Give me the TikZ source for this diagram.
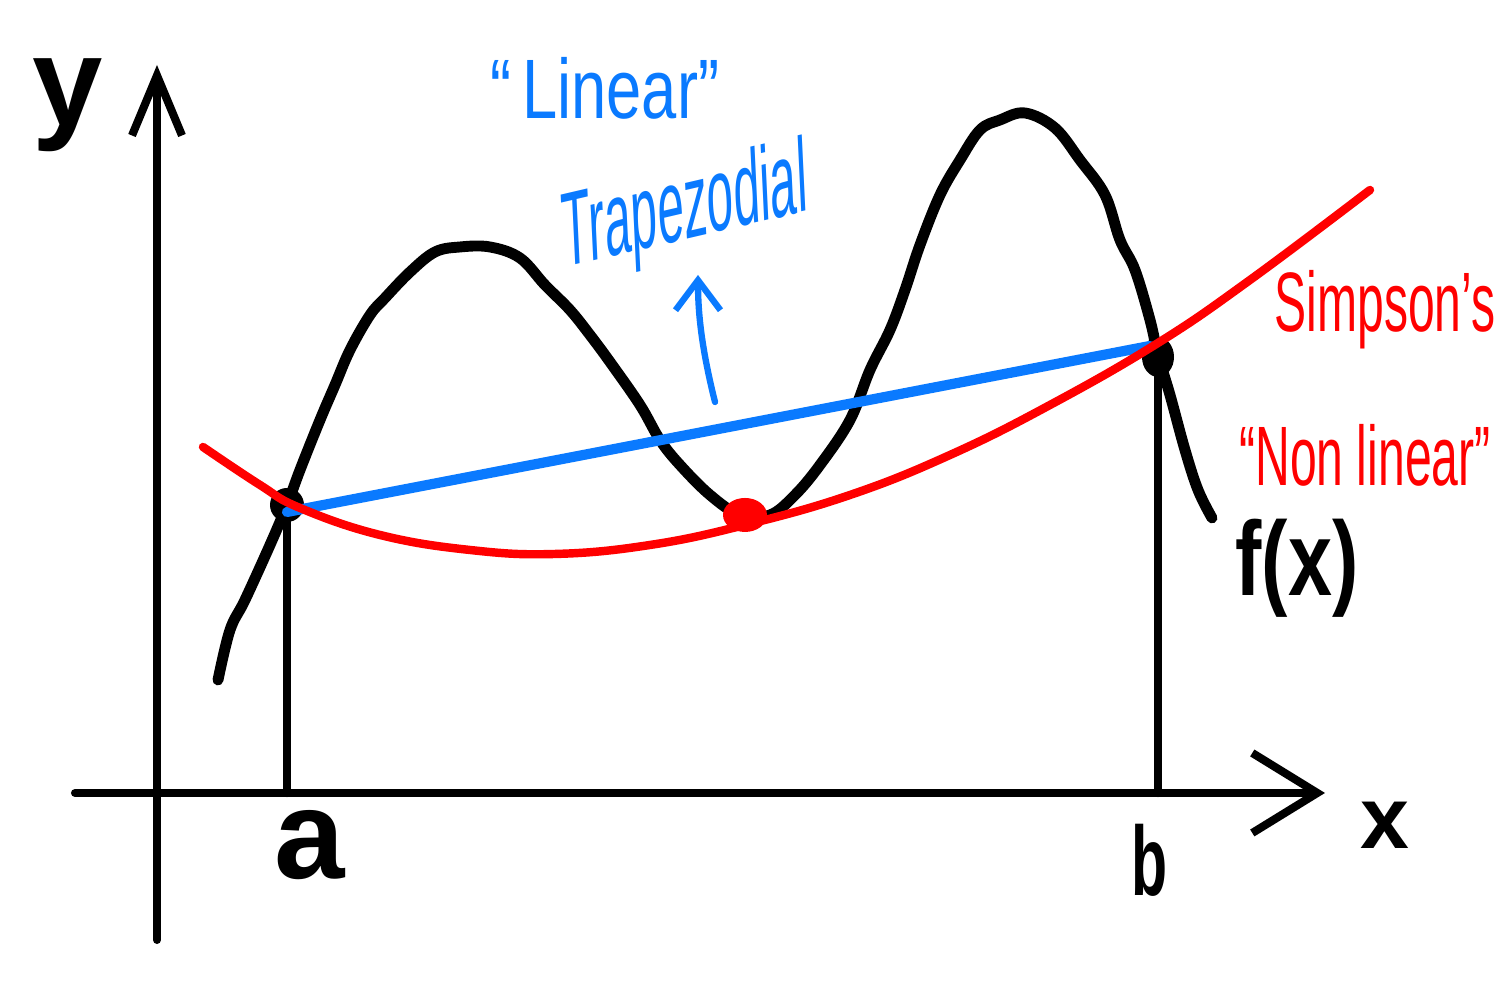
\documentclass[tikz,border=0pt]{standalone}
\usepackage{fontspec}
\setmainfont{Liberation Sans}
\usetikzlibrary{arrows.meta}
\usepackage{xcolor}
\definecolor{penblue}{rgb}{0.04,0.48,1.0}
\definecolor{penred}{rgb}{1.0,0.0,0.0}

\begin{document}
\begin{tikzpicture}[x=1cm,y=1cm,line cap=round,line join=round,
    axis/.style={line width=2.3pt,-{Straight Barb[length=#1]}},
    fcurve/.style={line width=3.1pt},
    bluetext/.style={penblue,inner sep=0pt,font=\fontsize{24}{26}\selectfont},
    redtext/.style={penred,font=\fontsize{24}{26}\selectfont}]
        \useasboundingbox (0,0) rectangle (15.03,10);
        % axis
        \draw[axis={6mm,width=5mm}] (1.57,0.60) -- (1.57,9.35);
        \draw[axis={6.5mm,width=8mm}] (0.75,2.07) -- (13.25,2.07);
        % bounds
        \coordinate (pa) at (2.87,4.88);
        \coordinate (pb) at (11.50,6.54);
        \draw[line width=2.4pt] (2.87,2.07) -- (2.87,4.95);
        \draw[line width=2.4pt] (11.58,2.07) -- (11.58,6.45);
        % f(x)
        \draw[fcurve] plot[smooth,tension=0.6] coordinates {
            (2.18,3.20) (2.30,3.70) (2.45,4.00) (2.70,4.55) (2.87,4.95)
            (3.00,5.30) (3.20,5.80) (3.35,6.15) (3.50,6.50) (3.70,6.85)
            (3.85,7.02) (4.10,7.28) (4.35,7.48) (4.60,7.53) (4.90,7.53)
            (5.20,7.42) (5.45,7.15) (5.70,6.90) (5.90,6.65) (6.10,6.38)
            (6.40,5.95) (6.60,5.60) (6.80,5.35) (7.10,5.05) (7.40,4.85)
            (7.70,4.85) (7.95,5.05) (8.20,5.35) (8.50,5.80) (8.70,6.30)
            (8.90,6.70) (9.05,7.10) (9.20,7.55) (9.40,8.05) (9.60,8.40)
            (9.80,8.70) (10.00,8.80) (10.25,8.87) (10.55,8.72) (10.80,8.40)
            (11.05,8.05) (11.20,7.60) (11.35,7.30) (11.50,6.80) (11.58,6.45)
            (11.70,6.05) (11.85,5.50) (11.98,5.10) (12.12,4.82)};
        \fill (2.87,4.95) circle (0.17);
        \fill (11.58,6.43) ellipse (0.16 and 0.2);
        % trapezoid line
        \draw[penblue,line width=2.9pt] (pa) -- (pb);
        % simpson curve
        \draw[penred,line width=2.4pt] plot[smooth,tension=0.7] coordinates {
            (2.03,5.53) (2.60,5.15) (3.00,4.92) (3.80,4.65) (4.70,4.50)
            (5.55,4.46) (6.50,4.55) (7.45,4.75) (8.50,5.05) (9.50,5.45)
            (10.50,5.95) (11.58,6.57) (12.50,7.20) (13.70,8.10)};
        \fill[penred] (7.45,4.85) ellipse (0.22 and 0.17);
        % arrow
        \draw[penblue,line width=1.8pt,-{Straight Barb[length=3mm,width=4.5mm]}]
            (7.15,5.98) .. controls (7.02,6.50) and (6.98,6.85) .. (6.98,7.25);
        % text
        \node[font=\bfseries\fontsize{36}{38}\selectfont] (ylab) at (0.68,8.95) {y};
        \node[font=\bfseries\fontsize{36}{38}\selectfont] (alab) at (3.10,1.55) {a};
        \node[font=\bfseries\fontsize{28}{30}\selectfont,xscale=0.6] (blab) at (11.50,1.40) {b};
        \node[font=\bfseries\fontsize{25}{27}\selectfont] (xlab) at (13.85,1.75) {x};
        \node[font=\bfseries\fontsize{30}{32}\selectfont,xscale=0.75] (flab) at (12.97,4.32) {f(x)};
        \node[bluetext,xscale=0.75] (linlab) at (6.05,9.12) {``\,Linear''};
        \node[bluetext,font=\fontsize{30}{32}\selectfont,xscale=0.45,rotate=6] (traplab) at (6.85,7.88) {Trapezodial};
        \node[redtext,xscale=0.57] (simlab) at (13.85,6.90) {Simpson's};
        \node[redtext,xscale=0.57] (nonlab) at (13.65,5.45) {``Non linear''};
\end{tikzpicture}
\end{document}
